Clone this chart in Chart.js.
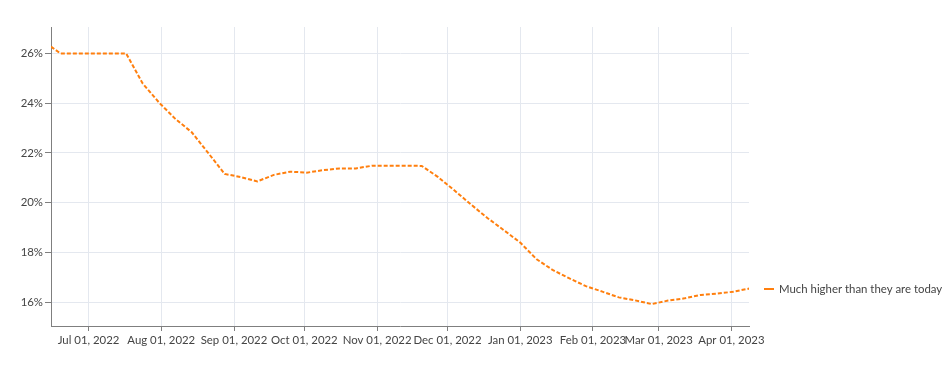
<!DOCTYPE html>
<html>
<head>
<meta charset="utf-8">
<script src="https://cdn.jsdelivr.net/npm/chart.js@4/dist/chart.umd.min.js"></script>
<style>
  html, body { margin: 0; padding: 0; background: #ffffff; }
  #wrap { position: relative; width: 948px; height: 366px; }
</style>
</head>
<body>
<div id="wrap"><canvas id="c" width="948" height="366"></canvas></div>
<script>
// ---- data ----
const seriesLabel = "Much higher than they are today";
const dates = [
  "2022-06-15","2022-06-19","2022-06-26","2022-07-03","2022-07-10","2022-07-17",
  "2022-07-24","2022-07-31","2022-08-07","2022-08-14","2022-08-21","2022-08-28",
  "2022-09-04","2022-09-11","2022-09-18","2022-09-25","2022-10-02","2022-10-09",
  "2022-10-16","2022-10-23","2022-10-30","2022-11-06","2022-11-13","2022-11-20",
  "2022-11-27","2022-12-04","2022-12-11","2022-12-18","2022-12-25","2023-01-01",
  "2023-01-08","2023-01-15","2023-01-22","2023-01-29","2023-02-05","2023-02-12",
  "2023-02-19","2023-02-26","2023-03-05","2023-03-12","2023-03-19","2023-03-26",
  "2023-04-02","2023-04-09"
];
const values = [
  26.27, 26.0, 26.0, 26.0, 26.0, 26.0,
  24.8, 24.03, 23.37, 22.83, 22.0, 21.16,
  21.03, 20.86, 21.12, 21.25, 21.21, 21.31,
  21.38, 21.38, 21.49, 21.49, 21.49, 21.48,
  21.03, 20.49, 19.93, 19.39, 18.9, 18.4,
  17.73, 17.29, 16.96, 16.65, 16.43, 16.2,
  16.08, 15.93, 16.07, 16.16, 16.3, 16.35,
  16.43, 16.56
];
const xTickDates = [
  "2022-07-01","2022-08-01","2022-09-01","2022-10-01","2022-11-01",
  "2022-12-01","2023-01-01","2023-02-01","2023-03-01","2023-04-01"
];
const yTickValues = [16, 18, 20, 22, 24, 26];
const xRange = ["2022-06-15T00:00:00Z", "2023-04-08T12:00:00Z"];
const yRange = [15.05, 27.06];

// ---- helpers ----
const MONTHS = ["Jan","Feb","Mar","Apr","May","Jun","Jul","Aug","Sep","Oct","Nov","Dec"];
const ts = s => Date.parse(s.length > 10 ? s : s + "T00:00:00Z");
const fmtDate = v => {
  const d = new Date(v);
  const dd = String(d.getUTCDate()).padStart(2, "0");
  return MONTHS[d.getUTCMonth()] + " " + dd + ", " + d.getUTCFullYear();
};

const FONT = "Lato";
const FSIZE = 11.4;
const TEXT = "#444444";
const GRID = "#e4e8ef";
const AXIS = "#7f7f7f";
const ORANGE = "#ff7f0e";

const sideLegend = {
  id: "sideLegend",
  afterDraw(chart) {
    const ds = chart.data.datasets[0];
    const ctx = chart.ctx;
    const ca = chart.chartArea;
    const x0 = ca.right + 15;
    const y = ca.bottom - 37;
    ctx.save();
    ctx.strokeStyle = ds.borderColor;
    ctx.lineWidth = 2;
    ctx.beginPath();
    ctx.moveTo(x0, y);
    ctx.lineTo(x0 + 10, y);
    ctx.stroke();
    ctx.fillStyle = TEXT;
    ctx.font = FSIZE + "px " + FONT;
    ctx.textBaseline = "middle";
    ctx.textAlign = "left";
    ctx.fillText(ds.label, x0 + 15, y);
    ctx.restore();
  }
};

new Chart(document.getElementById("c"), {
  type: "line",
  data: {
    datasets: [{
      label: seriesLabel,
      data: dates.map((d, i) => ({ x: ts(d), y: values[i] })),
      borderColor: ORANGE,
      backgroundColor: ORANGE,
      borderWidth: 2,
      borderDash: [4, 2],
      pointRadius: 0,
      pointHoverRadius: 0,
      tension: 0,
      fill: false
    }]
  },
  options: {
    responsive: false,
    animation: false,
    devicePixelRatio: 1,
    layout: { padding: { top: 27, right: 199, bottom: 0, left: 0 } },
    plugins: {
      legend: { display: false },
      tooltip: { enabled: false }
    },
    scales: {
      x: {
        type: "linear",
        min: ts(xRange[0]),
        max: ts(xRange[1]),
        afterBuildTicks: s => { s.ticks = xTickDates.map(d => ({ value: ts(d) })); },
        afterFit: s => { s.height = 40; },
        ticks: {
          autoSkip: false,
          maxRotation: 0,
          minRotation: 0,
          padding: 2,
          color: TEXT,
          font: { family: FONT, size: FSIZE },
          callback: v => fmtDate(v)
        },
        grid: { color: GRID, tickColor: AXIS, tickLength: 5, drawTicks: true },
        border: { color: AXIS, width: 1 }
      },
      y: {
        min: yRange[0],
        max: yRange[1],
        afterBuildTicks: s => { s.ticks = yTickValues.map(v => ({ value: v })); },
        afterFit: s => { s.width = 51; },
        ticks: {
          padding: 2,
          color: TEXT,
          font: { family: FONT, size: FSIZE },
          callback: v => v + "%"
        },
        grid: { color: GRID, tickColor: AXIS, tickLength: 6, drawTicks: true },
        border: { color: AXIS, width: 1 }
      }
    }
  },
  plugins: [sideLegend]
});
</script>
</body>
</html>
